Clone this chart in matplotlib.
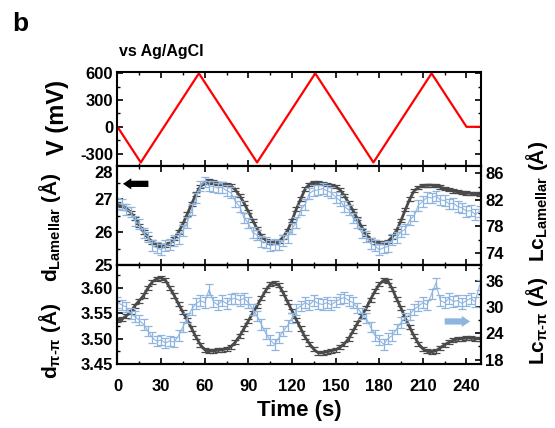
import numpy as np
import matplotlib
matplotlib.use("Agg")
import matplotlib.pyplot as plt
from matplotlib.ticker import MultipleLocator

plt.rcParams['font.family'] = ['Liberation Sans', 'DejaVu Sans']
plt.rcParams['font.weight'] = 'bold'
plt.rcParams['mathtext.fontset'] = 'custom'
plt.rcParams['mathtext.bf'] = 'Liberation Sans:bold'
plt.rcParams['mathtext.rm'] = 'Liberation Sans:bold'
plt.rcParams['mathtext.default'] = 'bf'
plt.rcParams['axes.unicode_minus'] = False

# applied potential (vs Ag/AgCl)
t_v = [0, 16, 56, 96, 136, 176, 216, 240, 250]
v_mv = [0, -400, 600, -400, 600, -400, 600, 0, 0]

# XRD sampling times (s)
t_xrd = np.arange(0, 250, 3)

d_lam = [26.85, 26.80, 26.72, 26.60, 26.42, 26.20, 26.00, 25.82, 25.70, 25.63,
         25.60, 25.60, 25.65, 25.80, 26.00, 26.25, 26.55, 26.85, 27.15, 27.38,
         27.50, 27.55, 27.52, 27.48, 27.47, 27.45, 27.40, 27.28, 27.10, 26.88,
         26.62, 26.35, 26.10, 25.88, 25.75, 25.70, 25.70, 25.72, 25.85, 26.05,
         26.35, 26.70, 27.00, 27.30, 27.45, 27.50, 27.50, 27.48, 27.45, 27.42,
         27.38, 27.28, 27.10, 26.88, 26.65, 26.40, 26.15, 25.92, 25.78, 25.70,
         25.68, 25.68, 25.72, 25.85, 26.05, 26.35, 26.68, 27.00, 27.25, 27.35,
         27.40, 27.42, 27.42, 27.40, 27.36, 27.32, 27.28, 27.24, 27.22, 27.20,
         27.18, 27.17, 27.16, 27.15]

lc_lam = [81.5, 81.3, 80.6, 80.2, 78.8, 78.4, 77.0, 76.4, 75.1, 74.8,
          74.5, 75.1, 75.3, 75.9, 76.2, 77.4, 78.6, 80.6, 82.3, 84.1,
          84.7, 84.1, 84.0, 83.8, 83.9, 83.4, 83.1, 81.8, 81.0, 79.3,
          78.5, 77.1, 76.7, 75.7, 75.6, 75.1, 75.3, 75.2, 75.9, 76.3,
          77.7, 78.6, 80.5, 81.3, 83.0, 83.4, 83.5, 83.7, 83.4, 83.1,
          82.4, 81.9, 81.0, 80.5, 79.3, 78.5, 77.0, 76.5, 75.4, 75.1,
          74.5, 74.8, 75.0, 76.0, 76.3, 77.2, 77.6, 79.0, 79.6, 81.2,
          81.8, 82.4, 82.3, 82.6, 82.0, 81.9, 81.4, 81.5, 81.0, 80.8,
          80.3, 80.4, 79.8, 80.3]

d_pp = [3.536, 3.538, 3.545, 3.552, 3.565, 3.575, 3.585, 3.600, 3.612, 3.618,
        3.620, 3.615, 3.600, 3.585, 3.568, 3.552, 3.537, 3.520, 3.503, 3.488,
        3.478, 3.475, 3.476, 3.477, 3.478, 3.480, 3.484, 3.493, 3.505, 3.520,
        3.535, 3.550, 3.565, 3.580, 3.595, 3.607, 3.610, 3.605, 3.590, 3.572,
        3.555, 3.537, 3.520, 3.503, 3.490, 3.479, 3.472, 3.472, 3.474, 3.476,
        3.478, 3.483, 3.490, 3.500, 3.515, 3.530, 3.545, 3.560, 3.577, 3.593,
        3.607, 3.615, 3.613, 3.598, 3.578, 3.560, 3.540, 3.522, 3.505, 3.490,
        3.480, 3.475, 3.474, 3.476, 3.482, 3.488, 3.493, 3.497, 3.499, 3.500,
        3.501, 3.501, 3.500, 3.500]

lc_pp = [31.0, 30.5, 30.0, 28.5, 27.8, 27.0, 26.0, 24.5, 23.0, 22.2,
         22.5, 21.8, 22.3, 22.0, 23.5, 25.5, 27.5, 29.5, 30.8, 31.5,
         31.0, 34.0, 31.2, 30.5, 31.5, 30.8, 31.8, 32.0, 31.5, 32.0,
         31.0, 29.5, 28.0, 26.0, 24.0, 22.5, 21.5, 23.0, 24.5, 25.8,
         27.5, 29.5, 30.2, 31.0, 30.5, 31.5, 30.8, 30.6, 31.0, 30.5,
         31.2, 31.8, 32.2, 31.5, 31.0, 29.8, 28.5, 27.5, 25.5, 23.5,
         22.5, 21.5, 22.8, 23.5, 25.0, 26.5, 27.5, 28.3, 29.5, 30.2,
         31.0, 30.5, 33.0, 35.5, 31.5, 31.0, 32.0, 31.3, 31.5, 30.8,
         31.5, 32.0, 31.2, 35.0]

dark = '#4a4a4a'
blue = '#8fb5df'

fig = plt.figure(figsize=(5.55, 4.28), dpi=100)
ax1 = fig.add_axes([0.2117, 0.6121, 0.655, 0.2196])
ax2 = fig.add_axes([0.2117, 0.3808, 0.655, 0.2313])
ax3 = fig.add_axes([0.2117, 0.1495, 0.655, 0.2313])
ax2r = ax2.twinx()
ax3r = ax3.twinx()

ax1.plot(t_v, v_mv, color='red', lw=1.6)
ax1.set_ylim(-440, 615)
ax1.set_yticks([-300, 0, 300, 600])

ax2.errorbar(t_xrd, d_lam, yerr=0.05, color=dark, lw=2, elinewidth=0.9,
             capsize=3, capthick=0.9)
ax2.set_ylim(25, 28)
ax2.set_yticks([25, 26, 27, 28])
ax2r.errorbar(t_xrd, lc_lam, yerr=0.8, color=blue, lw=0.8, elinewidth=0.9,
              capsize=3, capthick=0.9)
ax2r.set_ylim(72.2, 87.1)
ax2r.set_yticks([74, 78, 82, 86])

ax3.errorbar(t_xrd, d_pp, yerr=0.004, color=dark, lw=2, elinewidth=0.9,
             capsize=3, capthick=0.9)
ax3.set_ylim(3.45, 3.645)
ax3.set_yticks([3.45, 3.50, 3.55, 3.60])
ax3.set_yticklabels(['3.45', '3.50', '3.55', '3.60'])
ax3r.errorbar(t_xrd, lc_pp, yerr=1.2, color=blue, lw=0.8, elinewidth=0.9,
              capsize=3, capthick=0.9)
ax3r.set_ylim(17.0, 39.6)
ax3r.set_yticks([18, 24, 30, 36])

for ax in [ax1, ax2, ax3]:
    ax.set_xlim(0, 250)
    ax.xaxis.set_major_locator(MultipleLocator(30))
    ax.xaxis.set_minor_locator(MultipleLocator(15))
    ax.tick_params(axis='x', which='both', direction='in', top=True, labelbottom=False)
    ax.tick_params(axis='y', which='both', direction='in')
ax1.tick_params(axis='y', right=True, which='both')
ax1.yaxis.set_minor_locator(MultipleLocator(150))
ax2.yaxis.set_minor_locator(MultipleLocator(0.5))
ax3.yaxis.set_minor_locator(MultipleLocator(0.025))
ax2r.yaxis.set_minor_locator(MultipleLocator(2))
ax3r.yaxis.set_minor_locator(MultipleLocator(3))
for ax in [ax2r, ax3r]:
    ax.tick_params(axis='y', which='both', direction='in')
ax3.tick_params(axis='x', labelbottom=True)
ax3.set_xticks(range(0, 250, 30))

for ax in [ax1, ax2, ax3, ax2r, ax3r]:
    ax.tick_params(which='major', length=4, width=1.2, labelsize=12, pad=3)
    ax.tick_params(which='minor', length=2.5, width=1.0)
    for s in ax.spines.values():
        s.set_linewidth(1.5)
    for lab in ax.get_xticklabels() + ax.get_yticklabels():
        lab.set_fontweight('bold')
ax3.tick_params(axis='x', pad=11)
# top label of the middle panel sits just below the panel edge
ax2.get_yticklabels()[-1].set_va('top')

# direction arrows
arrow_style = 'simple,head_width=0.8,head_length=0.6,tail_width=0.45'
ax2.annotate('', xy=(0.015, 0.82), xytext=(0.085, 0.82), xycoords='axes fraction',
             arrowprops=dict(arrowstyle=arrow_style, color='black', lw=0,
                             shrinkA=0, shrinkB=0))
ax3.annotate('', xy=(0.97, 0.43), xytext=(0.9, 0.43), xycoords='axes fraction',
             arrowprops=dict(arrowstyle=arrow_style, color=blue, lw=0,
                             shrinkA=0, shrinkB=0))

fig.text(0.104, 0.725, 'V (mV)', rotation=90, ha='center', va='center', fontsize=17, fontweight='bold')
fig.text(0.09, 0.47, r'd$_{Lamellar}$ (Å)', rotation=90, ha='center', va='center', fontsize=15, fontweight='bold')
fig.text(0.09, 0.205, r'd$_{π‐π}$ (Å)', rotation=90, ha='center', va='center', fontsize=15, fontweight='bold')
fig.text(0.968, 0.53, r'Lc$_{Lamellar}$ (Å)', rotation=90, ha='center', va='center', fontsize=15, fontweight='bold')
fig.text(0.968, 0.25, r'Lc$_{π‐π}$ (Å)', rotation=90, ha='center', va='center', fontsize=15, fontweight='bold')
fig.text(0.54, 0.042, 'Time (s)', ha='center', va='center', fontsize=16, fontweight='bold')
fig.text(0.022, 0.945, 'b', ha='left', va='center', fontsize=19, fontweight='bold')
fig.text(0.215, 0.88, 'vs Ag/AgCl', ha='left', va='center', fontsize=11.5, fontweight='bold')

fig.savefig('out.png', dpi=100)
